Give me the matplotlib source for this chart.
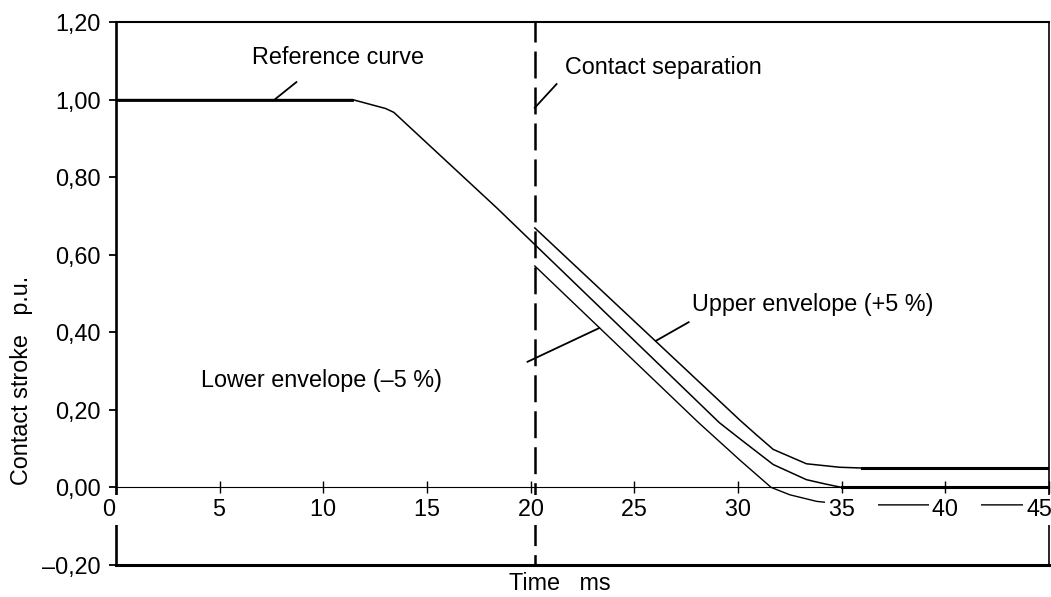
import matplotlib
matplotlib.use("Agg")
import matplotlib.pyplot as plt

plt.rcParams['font.family'] = ['Liberation Sans', 'DejaVu Sans']
plt.rcParams['lines.scale_dashes'] = False

# contact stroke curves, time in ms, stroke in p.u.
ref_t = [0, 11.4, 13.0, 13.4, 18.4, 29.1, 29.6, 30.1, 31.7, 33.3, 34.2, 35.0, 45]
ref_y = [1.0, 1.0, 0.977, 0.967, 0.719, 0.167, 0.146, 0.125, 0.059, 0.020, 0.009, 0.0, 0.0]

upper_t = [20.2, 30.1, 30.9, 31.7, 33.3, 34.9, 36.0, 45]
upper_y = [0.669, 0.173, 0.135, 0.098, 0.061, 0.052, 0.05, 0.05]

lower_t = [20.2, 28.1, 30.1, 31.6, 32.5, 33.8, 34.7, 36.0, 45]
lower_y = [0.571, 0.167, 0.070, 0.0, -0.019, -0.036, -0.041, -0.045, -0.045]

t_sep = 20.2  # contact separation

x_ticks = [0, 5, 10, 15, 20, 25, 30, 35, 40, 45]
y_ticks = [-0.2, 0.0, 0.2, 0.4, 0.6, 0.8, 1.0, 1.2]

# annotation texts: (text, t, y) left/baseline
notes = [
    ("Reference curve", 6.54, 1.092),
    ("Contact separation", 21.68, 1.066),
    ("Upper envelope (+5 %)", 27.78, 0.454),
    ("Lower envelope (\u20135 %)", 4.08, 0.26),
]
# leader lines: ((t0, y0), (t1, y1))
leaders = [
    ((7.65, 1.0), (8.7, 1.045)),
    ((t_sep, 0.979), (21.25, 1.04)),
    ((26.04, 0.378), (27.62, 0.426)),
    ((19.85, 0.324), (23.31, 0.411)),
]

fs = 16.8

fig = plt.figure(figsize=(10.51, 5.97), dpi=100)
ax = fig.add_axes([116 / 1051, 1 - 565 / 597, 933 / 1051, 543 / 597])
ax.set_xlim(0, 45)
ax.set_ylim(-0.2, 1.2)

ax.spines['top'].set_linewidth(1.5)
ax.spines['left'].set_linewidth(1.9)
ax.spines['right'].set_linewidth(1.2)
ax.spines['bottom'].set_position(('data', 0))
ax.spines['bottom'].set_linewidth(0.8)
ax.axhline(-0.2, color='black', lw=2.2, clip_on=False, solid_capstyle='projecting')

ax.set_yticks(y_ticks)
ax.set_yticklabels([f"{v:.2f}".replace('.', ',').replace('-', '\u2013') for v in y_ticks])
ax.tick_params(axis='y', direction='out', length=5, width=1.3, pad=6, labelsize=fs)
ax.set_xticks(x_ticks)
ax.tick_params(axis='x', direction='inout', length=8, width=1, labelbottom=False)

# curves
ax.plot(ref_t, ref_y, color='black', lw=1.1)
ax.plot(ref_t[:2], ref_y[:2], color='black', lw=2)
ax.plot(ref_t[-2:], ref_y[-2:], color='black', lw=2.2)
ax.plot(upper_t, upper_y, color='black', lw=1.1)
ax.plot(upper_t[-2:], upper_y[-2:], color='black', lw=2.2)
ax.plot(lower_t, lower_y, color='black', lw=1.0)

ax.vlines(t_sep, 1.2, -0.2, colors='black', lw=1.8, linestyles=[(5, (19.4, 6.5))])

for (p0, p1) in leaders:
    ax.plot([p0[0], p1[0]], [p0[1], p1[1]], color='black', lw=1.3)

for s, x, y in notes:
    ax.text(x, y, s, fontsize=fs, ha='left', va='baseline')

# x tick labels sit between the zero line and the bottom frame, on white boxes
label_y = -0.058
for v in x_ticks:
    s = str(v)
    dx = -len(s) * 0.556 * fs / 2
    if v == x_ticks[0]:
        dx -= 5
    if v == x_ticks[-1]:
        dx -= 7
    else:
        s += "   "
    ax.annotate(s, xy=(v, label_y), xytext=(dx, 0), textcoords='offset points',
                ha='left', va='center', fontsize=fs, annotation_clip=False,
                bbox=dict(boxstyle='square,pad=0.15', fc='white', ec='none'))

fig.text(560 / 1051, 1 - 583 / 597, "Time   ms", fontsize=fs, ha='center', va='center')
fig.text(22 / 1051, 1 - 380 / 597, "Contact stroke   p.u.", fontsize=fs,
         rotation=90, ha='center', va='center')

fig.savefig("out.png", dpi=100)
